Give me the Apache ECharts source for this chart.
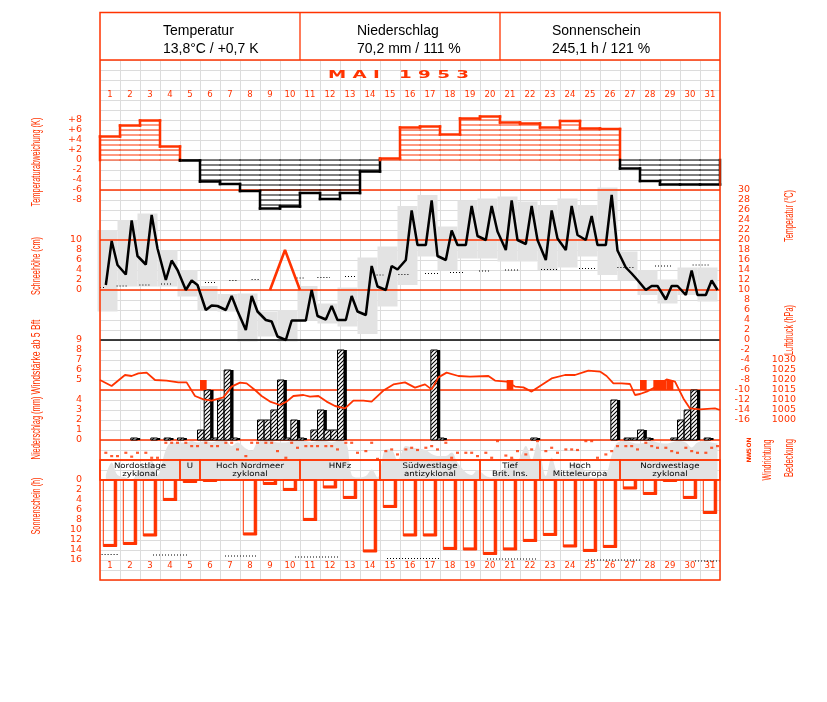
<!DOCTYPE html>
<html><head><meta charset="utf-8">
<script src="https://cdn.jsdelivr.net/npm/echarts@6/dist/echarts.min.js"></script>
<style>html,body{margin:0;padding:0;background:#fff}#c{width:827px;height:702px}</style>
</head><body><div id="c"></div>
<script>
// ---------------- DATA ----------------
const days = ['1','2','3','4','5','6','7','8','9','10','11','12','13','14','15','16','17','18','19','20','21','22','23','24','25','26','27','28','29','30','31'];
const headerTitles = ['Temperatur','Niederschlag','Sonnenschein'];
const headerValues = ['13,8°C / +0,7 K','70,2 mm / 111 %','245,1 h / 121 %'];
const monthTitle = 'M A I   1 9 5 3';

// daily temperature deviation (K)
const tempDev = [4.7,6.9,7.9,2.7,-0.1,-4.3,-4.8,-6.2,-9.7,-9.3,-6.6,-7.8,-6.6,-2.3,0.3,6.5,6.7,5.1,8.3,8.7,7.5,7.3,6.5,7.8,6.3,6.2,-1.7,-4.2,-4.9,-4.9,-4.9];
// temperature readings 7h / 14h / 21h (°C)
const temp07 = [11,13.1,15.1,12,10,6,6,2,4,0,3.9,4.1,4,5,10,16,19,16,19,20,18,19.2,16,18,20,19,14.5,10,8.1,9,9];
const temp14 = [19.8,23.9,25,15.9,11.9,6.9,8.8,8.8,3.7,3.9,10,6.8,8.8,14.8,14.8,25.9,27.9,21.9,26.8,26.8,27.9,26.8,25.9,26.8,24.8,29,13.3,10.8,10.8,13.9,11.9];
const temp21 = [15,16.8,18.3,14,11,6.8,5.8,5.7,0.7,3.9,4.8,4,5.7,10.7,14.1,19,16.8,19,20.8,21.7,20,20,20.3,21,19,17.9,12,10.8,10.8,9,10];
// daily max / min (°C)
const tMax = [22,24,25.3,18,14,10.8,9.2,9.3,5.7,6,10.8,7.3,10.5,16.5,18.7,26.8,29,22.7,27.9,28.3,28.7,27.7,27,28.3,27,30.5,17.7,14,12.1,14.5,14.5];
const tMin = [5.7,10.7,10.7,10.7,8.7,6,5.7,-0.3,0.7,-0.3,4,3.3,2.7,1.2,6.7,11,16.7,14,16.3,16.3,15.7,15.7,14,14.5,16.7,13,12,9,7.3,9,7.7];
// normal temperature (dotted segments, start day, end day, °C)
const normStart = [0.5,1.33,2.47,3.55,5.75,6.97,8.08,10.33,11.37,12.75,14.33,15.42,16.75,18.0,19.45,20.75,22.55,24.45,26.37,28.25,30.13];
const normEnd   = [0.8,1.92,3.0,4.08,6.33,7.42,8.5,10.7,12.0,13.3,14.67,16.0,17.42,18.67,20.0,21.5,23.42,25.3,27.17,29.08,31.0];
const normT     = [10.5,10.8,11,11.2,11.5,11.9,12.1,12.4,12.5,12.7,13,13.1,13.3,13.5,13.8,14,14.1,14.3,14.5,14.8,15];
// snow depth (cm)
const snowX  = [9.0,9.75,10.5];
const snowCm = [0,8,0];
// air pressure (hPa) with time in days
const pressT = [0.5,1.08,1.75,2.08,2.42,2.83,3.25,3.83,4.42,4.83,5.25,5.67,6.08,6.67,7.08,7.5,7.83,8.25,8.58,9.0,9.5,9.83,10.17,10.67,11.0,11.42,11.83,12.25,12.75,13.17,13.67,14.08,14.67,15.17,15.75,16.25,16.75,17.08,17.42,17.83,18.42,19.0,19.92,20.25,20.83,21.25,21.67,22.08,22.58,23.08,23.75,24.25,24.92,25.5,25.83,26.17,26.58,27.0,27.25,27.5,27.83,28.33,28.83,29.25,29.67,30.0,30.5,31.25,31.5];
const pressV = [1020,1017,1022.5,1022,1023.3,1023.7,1020,1019.7,1018.8,1018.8,1012,1010.3,1009.7,1011.3,1016.7,1018.7,1018.3,1015,1012,1009.2,1007.5,1009.2,1012,1012.5,1011.7,1012,1009.2,1007,1005.8,1009.7,1009.7,1009.2,1014.7,1017.8,1018.8,1016.2,1017.8,1015.3,1021.3,1023.7,1022,1021.7,1022,1019.7,1019.2,1016.7,1016.3,1014.2,1017.5,1020.8,1022.5,1022.5,1024.7,1024.2,1022,1018.3,1018.3,1018,1012.5,1013,1014.2,1016.7,1020.3,1019.2,1010.8,1005.8,1005.3,1005.8,1005];
// wind >= 5 Bft (day, third of day, Bft)
const windDay  = [6,21,28,28,29,29];
const windSlot = [0,1,0,2,0,1];
const windBft  = [5,5,5,5,5,5];
// precipitation (day, third of day, mm)
const precipDay  = [2,3,4,5,6,6,6,7,7,7,9,9,9,10,10,10,11,11,12,12,12,13,17,18,22,26,27,27,28,28,29,30,30,30,31];
const precipSlot = [2,2,1,0,0,1,2,0,1,2,0,1,2,0,1,2,0,2,0,1,2,0,2,0,2,2,1,2,0,1,2,0,1,2,1];
const precipMm   = [0.2,0.2,0.2,0.2,1,5,0.2,4,7,0.2,2,2,3,6,0.2,2,0.2,1,3,1,1,9,9,0.2,0.2,4,0.2,0.2,1,0.2,0.2,2,3,5,0.2];
// wind direction (deg) 7h/14h/21h
const windDir = [
 230,290,290, 230,300,230, 230,320,320, 50,50,50, 50,110,110, 50,110,110, 50,50,170, 290,50,50,
 50,50,200, 320,50,140, 110,110,110, 110,110,170, 50,50,230, 200,50,340, 200,170,260, 170,140,180,
 140,110,170, 50,320,230, 230,230,290, 230,320,20, 280,320,200, 260,170,20, 200,140,230, 170,170,180,
 20,20,320, 260,200,110, 110,110,170, 50,110,140, 140,200,230, 140,200,230, 230,140,110];
const windDirLabels = ['N','O','S','W','N'];
// cloud cover (octas) 7h/14h/21h
const cloud = [
 1,3.5,1, 0.5,0,1.5, 3,3.8,1, 6,7.5,7.5, 7.5,7.8,7.5, 7.8,7.5,7.8, 7.8,6.8,7.5, 6.3,5.8,7.5,
 7.8,7.8,7.5, 7.5,7.8,7.8, 7.8,7.5,7.8, 7.8,7.5,7.8, 7.5,1,0.5, 0.8,2.1,0.5, 6.1,6,4, 6.8,6.5,6.3,
 6,5.2,4.8, 4.8,5.5,3.5, 1.5,1,2, 0.8,0.5,1.5, 2.5,4.5,4, 6.8,4,7.5, 0.8,4.5,1.5, 1,3,3.5,
 1.5,0.5,0.5, 1,5,7.5, 7.8,7.5,7.3, 7.5,7.8,7.5, 7.3,7.5,7.8, 7.5,6.5,7.5, 7.8,7.5,7.3];
// weather types
const wtLabel = ['Nordostlage\nzyklonal','U','Hoch Nordmeer\nzyklonal','HNFz','Südwestlage\nantizyklonal','Tief\nBrit. Ins.','Hoch\nMitteleuropa','Nordwestlage\nzyklonal'];
const wtStart = [1,5,6,11,15,20,23,27];
const wtEnd   = [4,5,10,14,19,22,26,31];
// sunshine (h)
const sunHours = [13.3,12.9,11.2,4.1,0.5,0.2,0,11,0.9,2.1,8.1,1.6,3.7,14.4,5.5,11.2,11.2,13.9,14,14.9,14,12.3,11.1,13.4,14.3,13.5,1.8,2.9,0.3,3.7,6.7];
const sunMaxStart = [0.58,3.15,6.75,10.25,14.85,19.85,24.9,30.25];
const sunMaxEnd   = [1.42,4.9,8.4,12.4,17.5,22.35,27.6,31.5];
const sunMaxH     = [14.9,15,15.2,15.4,15.7,15.8,16,16.2];
const readHours = [7,14,21];

// ---------------- STYLE / HELPERS ----------------
const RED = '#ff3300', GRAYF = '#e3e3e3', GRIDC = '#dcdcdc', FONT = 'DejaVu Sans';
function measure(text, font){ const c=document.createElement('canvas').getContext('2d'); c.font=font; return c.measureText(text).width; }
function vtitle(text, cx, cy, len){
  const font = '12px "Liberation Sans", Arial, sans-serif';
  return {type:'text', x:cx, y:cy, rotation:Math.PI/2, scaleX:len/measure(text,font), z:10,
    style:{text, font, fill:RED, align:'center', verticalAlign:'middle', textAlign:'center', textVerticalAlign:'middle'}};
}
const pat = document.createElement('canvas'); pat.width=4; pat.height=4;
(function(){const g=pat.getContext('2d'); g.fillStyle='#fff'; g.fillRect(0,0,4,4); g.strokeStyle='#000'; g.lineWidth=1.1;
 g.beginPath(); g.moveTo(0,4); g.lineTo(4,0); g.moveTo(-1,1); g.lineTo(1,-1); g.moveTo(3,5); g.lineTo(5,3); g.stroke();})();

function seriesPts(arr){ const out=[]; for(let d=0; d<31; d++) for(let j=0;j<3;j++) out.push([d+0.5+readHours[j]/24, arr[d*3+j]]); return out; }
const tempPts=[]; for(let d=0; d<31; d++){ tempPts.push([d+0.5+7/24,temp07[d]],[d+0.5+14/24,temp14[d]],[d+0.5+21/24,temp21[d]]); }

const lbl = {color:RED, fontFamily:FONT, fontSize:9.5};
function yAx(o){ return Object.assign({type:'value', axisLine:{show:false}, axisTick:{show:false}, splitLine:{show:false}}, o); }
function ln(x1,y1,x2,y2,stroke,w){ return {type:'line', shape:{x1,y1,x2,y2}, style:{stroke, lineWidth:w, lineCap:'square'}}; }

// ---------------- GRAPHIC (layout) ----------------
const graphic = [];
[[60,RED],[190,RED],[240,RED],[290,RED],[340,'#000'],[390,RED],[440,RED],[460,RED],[480,RED]].forEach(([y,c])=>{
  graphic.push({type:'line', z:3, shape:{x1:100,y1:y,x2:720,y2:y}, style:{stroke:c, lineWidth:1.3}});
});
graphic.push({type:'rect', z:10, shape:{x:100,y:12.5,width:620,height:567.5}, style:{stroke:RED, fill:null, lineWidth:1.5}});
graphic.push({type:'line', z:10, shape:{x1:300,y1:12.5,x2:300,y2:60}, style:{stroke:RED, lineWidth:1.3}});
graphic.push({type:'line', z:10, shape:{x1:500,y1:12.5,x2:500,y2:60}, style:{stroke:RED, lineWidth:1.3}});
const hx = [163,357,552];
headerTitles.forEach((t,i)=>{
  graphic.push({type:'text', z:10, x:hx[i], y:31, style:{text:t, font:'14px "Liberation Sans", Arial, sans-serif', fill:'#000', verticalAlign:'middle', textVerticalAlign:'middle'}});
  graphic.push({type:'text', z:10, x:hx[i], y:49.5, style:{text:headerValues[i], font:'14px "Liberation Sans", Arial, sans-serif', fill:'#000', verticalAlign:'middle', textVerticalAlign:'middle'}});
});
(function(){ const f='bold 11px "DejaVu Sans"'; graphic.push({type:'text', z:10, x:398.5, y:75, scaleX:141/measure(monthTitle,f),
  style:{text:monthTitle, font:f, fill:RED, align:'center', verticalAlign:'middle', textAlign:'center', textVerticalAlign:'middle'}}); })();
graphic.push(vtitle('Temperaturabweichung (K)',37,162,89));
graphic.push(vtitle('Schneehöhe (cm)',37,266,58));
graphic.push(vtitle('Windstärke ab 5 Bft',37,357,75));
graphic.push(vtitle('Niederschlag (mm)',37,428,63));
graphic.push(vtitle('Sonnenschein (h)',37,506,57));
graphic.push(vtitle('Temperatur (°C)',790,216,52));
graphic.push(vtitle('Luftdruck (hPa)',790,330,50));
graphic.push(vtitle('Windrichtung',768,460,41));
graphic.push(vtitle('Bedeckung',790,458,38));

// ---------------- CHART ----------------
const chart = echarts.init(document.getElementById('c'), null, {renderer:'canvas'});
const gridBase = {left:100, width:620, show:false, containLabel:false, outerBoundsMode:'none'};
const option = {
  animation:false, backgroundColor:'#fff',
  graphic,
  grid:[
    Object.assign({top:60, height:520}, gridBase),
    Object.assign({top:110, height:100}, gridBase),
    Object.assign({top:190, height:250}, gridBase),
    Object.assign({top:440, height:40}, gridBase),
    Object.assign({top:480, height:80}, gridBase)
  ],
  xAxis:[
    {gridIndex:0, type:'value', min:0, max:31, interval:1, axisLine:{show:false}, axisTick:{show:false}, axisLabel:{show:false}, splitLine:{show:true, lineStyle:{color:GRIDC, width:1}}},
    {gridIndex:1, type:'value', min:0.5, max:31.5, show:false},
    {gridIndex:1, type:'category', data:days, position:'top', axisLine:{show:false}, axisTick:{show:false}, splitLine:{show:false},
      axisLabel:{interval:0, margin:11, color:RED, fontFamily:FONT, fontSize:8.5}},
    {gridIndex:2, type:'value', min:0.5, max:31.5, show:false},
    {gridIndex:3, type:'value', min:0.5, max:31.5, show:false},
    {gridIndex:4, type:'value', min:0.5, max:31.5, show:false},
    {gridIndex:4, type:'category', data:days, position:'bottom', axisLine:{show:false}, axisTick:{show:false}, splitLine:{show:false},
      axisLabel:{interval:0, margin:1, color:RED, fontFamily:FONT, fontSize:8.5}}
  ],
  yAxis:[
    {gridIndex:0, type:'value', min:0, max:52, interval:1, axisLine:{show:false}, axisTick:{show:false}, axisLabel:{show:false}, splitLine:{show:true, lineStyle:{color:GRIDC, width:1}}},
    yAx({gridIndex:1, min:-10, max:10, interval:2, position:'left', axisLabel:Object.assign({margin:18, formatter:v=>Math.abs(v)>8?'':(v>0?'+'+v:String(v))}, lbl)}),
    yAx({gridIndex:2, min:-20, max:30, interval:2, position:'right', axisLabel:Object.assign({margin:30, align:'right', showMaxLabel:true, formatter:v=>v<-16?'':String(v)}, lbl)}),
    yAx({gridIndex:2, min:-30, max:20, interval:2, position:'left', axisLabel:Object.assign({margin:18, formatter:v=>(v>=0&&v<=10)?String(v):''}, lbl)}),
    yAx({gridIndex:2, min:990, max:1115, interval:5, position:'right', axisLabel:Object.assign({margin:76, align:'right', formatter:v=>(v>=1000&&v<=1030)?String(v):''}, lbl)}),
    yAx({gridIndex:2, min:-1, max:24, interval:1, position:'left', axisLabel:Object.assign({margin:18, formatter:v=>(v>=5&&v<=9)?String(v):''}, lbl)}),
    yAx({gridIndex:2, min:0, max:25, interval:1, position:'left', axisLabel:Object.assign({margin:18, formatter:v=>(v>=0&&v<=4)?String(v):''}, lbl)}),
    yAx({gridIndex:3, min:0, max:8, show:false}),
    yAx({gridIndex:3, min:0, max:720, interval:90, inverse:true, position:'right',
      axisLabel:{margin:26, rotate:90, color:RED, fontFamily:FONT, fontSize:6, fontWeight:'bold', formatter:v=>(v%90===0&&v<=360)?windDirLabels[v/90]:''}}),
    yAx({gridIndex:4, min:0, max:16, interval:2, inverse:true, position:'left', axisLabel:Object.assign({margin:18, showMaxLabel:true, showMinLabel:true}, lbl)})
  ],
  series:[
    {type:'custom', xAxisIndex:3, yAxisIndex:2, z:1, data:days.map((d,i)=>[i+1,tMin[i],tMax[i]]),
      renderItem:(p,api)=>{ const d=api.value(0); const a=api.coord([d-0.625,api.value(2)]), b=api.coord([d+0.375,api.value(1)]);
        return {type:'rect', shape:{x:a[0],y:a[1],width:b[0]-a[0],height:b[1]-a[1]}, style:{fill:GRAYF}}; }},
    {type:'line', xAxisIndex:4, yAxisIndex:7, z:1, smooth:0.35, symbol:'none', data:seriesPts(cloud),
      lineStyle:{width:0, color:GRAYF}, areaStyle:{color:GRAYF, opacity:1}},
    {type:'custom', xAxisIndex:3, yAxisIndex:2, z:4, data:normT.map((t,i)=>[normStart[i],normEnd[i],t]),
      renderItem:(p,api)=>{ const a=api.coord([api.value(0),api.value(2)]), b=api.coord([api.value(1),api.value(2)]);
        return {type:'line', shape:{x1:a[0],y1:a[1],x2:b[0],y2:b[1]}, style:{stroke:'#000', lineWidth:1, lineDash:[1,2]}}; }},
    {type:'custom', xAxisIndex:1, yAxisIndex:1, z:5, data:tempDev.map((v,i)=>[i+1,v]),
      renderItem:(p,api)=>{
        const i=p.dataIndex, d=api.value(0), v=api.value(1);
        const xL=api.coord([d-0.5,0])[0], xR=api.coord([d+0.5,0])[0], y0=api.coord([d,0])[1], yv=api.coord([d,v])[1];
        const pos=v>0, col=pos?RED:'#000', sg=pos?1:-1, ch=[];
        for(let k=1;k<=Math.floor(Math.abs(v));k++){ const yk=api.coord([d,sg*k])[1]; if(Math.abs(yk-yv)>1.2) ch.push(ln(xL,yk,xR,yk,col,1)); }
        ch.push(ln(xL,y0,xR,y0,col,1));
        ch.push(ln(xL,yv,xR,yv,col,2.5));
        if(i>0){ const pv=tempDev[i-1], yp=api.coord([d,pv])[1], ppos=pv>0;
          if(ppos===pos) ch.push(ln(xL,yp,xL,yv,col,2.5));
          else { ch.push(ln(xL,yp,xL,y0,ppos?RED:'#000',2.5)); ch.push(ln(xL,y0,xL,yv,col,2.5)); } }
        else ch.push(ln(xL,y0,xL,yv,col,2.5));
        if(i===tempDev.length-1) ch.push(ln(xR,yv,xR,y0,col,2.5));
        return {type:'group', children:ch}; }},
    {type:'custom', xAxisIndex:3, yAxisIndex:6, z:6, data:precipMm.map((m,i)=>[precipDay[i],precipSlot[i],m]),
      renderItem:(p,api)=>{ const t0=api.value(0)-0.5+api.value(1)/3-0.125, t1=t0+1/3;
        const a=api.coord([t0,api.value(2)]), b=api.coord([t1,0]);
        return {type:'group', children:[
          {type:'rect', shape:{x:a[0],y:a[1],width:b[0]-a[0],height:b[1]-a[1]}, style:{fill:{image:pat, repeat:'repeat'}, stroke:'#000', lineWidth:1}},
          {type:'rect', shape:{x:b[0]-0.5,y:a[1],width:3.2,height:b[1]-a[1]}, style:{fill:'#000'}}]}; }},
    {type:'custom', xAxisIndex:3, yAxisIndex:5, z:6, data:windBft.map((v,i)=>[windDay[i],windSlot[i],v]),
      renderItem:(p,api)=>{ const t0=api.value(0)-0.5+api.value(1)/3; const a=api.coord([t0,api.value(2)]), b=api.coord([t0+1/3,4]);
        return {type:'rect', shape:{x:a[0],y:a[1],width:b[0]-a[0],height:b[1]-a[1]}, style:{fill:RED}}; }},
    {type:'line', xAxisIndex:3, yAxisIndex:2, z:7, symbol:'none', data:tempPts, lineStyle:{color:'#000', width:2.5}},
    {type:'line', xAxisIndex:3, yAxisIndex:4, z:7, symbol:'none', data:pressV.map((v,i)=>[pressT[i],v]), lineStyle:{color:RED, width:1.8}},
    {type:'line', xAxisIndex:3, yAxisIndex:3, z:7, symbol:'none', data:snowCm.map((v,i)=>[snowX[i],v]), lineStyle:{color:RED, width:2.6}},
    {type:'scatter', xAxisIndex:4, yAxisIndex:8, z:7, symbol:'rect', symbolSize:[3,2.2], itemStyle:{color:RED}, data:seriesPts(windDir)},
    {type:'custom', xAxisIndex:4, yAxisIndex:7, z:8, data:wtLabel.map((t,i)=>[wtStart[i],wtEnd[i]]),
      renderItem:(p,api)=>{ const a=api.coord([api.value(0)-0.5,4]), b=api.coord([api.value(1)+0.5,0]); const t=wtLabel[p.dataIndex];
        return {type:'group', children:[
          {type:'rect', shape:{x:a[0],y:a[1],width:b[0]-a[0],height:b[1]-a[1]}, style:{fill:null, stroke:RED, lineWidth:1.4}},
          {type:'text', x:(a[0]+b[0])/2, y:t.indexOf('\n')>=0?470.3:466.5, scaleX:1.15,
            style:{text:t, fill:'#000', font:'7.5px "DejaVu Sans"', lineHeight:7.8, align:'center', verticalAlign:'middle', textAlign:'center', textVerticalAlign:'middle'}}]}; }},
    {type:'custom', xAxisIndex:5, yAxisIndex:9, z:6, data:sunHours.map((h,i)=>[i+1,h]),
      renderItem:(p,api)=>{ const d=api.value(0), h=api.value(1); if(!(h>0)) return null;
        const xl=api.coord([d-0.5,0])[0]+3.3, xr=api.coord([d+0.5,0])[0]-3.3, y0=api.coord([d,0])[1], yb=api.coord([d,h])[1];
        const hh=Math.max(yb-y0,1.5);
        return {type:'group', children:[
          {type:'rect', shape:{x:xl,y:y0,width:xr-xl,height:hh}, style:{fill:null, stroke:RED, lineWidth:1}},
          {type:'rect', shape:{x:xr-3,y:y0,width:3,height:hh}, style:{fill:RED}},
          {type:'rect', shape:{x:xl,y:y0+hh-Math.min(2.6,hh),width:xr-xl,height:Math.min(2.6,hh)}, style:{fill:RED}}]}; }},
    {type:'custom', xAxisIndex:5, yAxisIndex:9, z:7, data:sunMaxH.map((h,i)=>[sunMaxStart[i],sunMaxEnd[i],h]),
      renderItem:(p,api)=>{ const a=api.coord([api.value(0),api.value(2)]), b=api.coord([api.value(1),api.value(2)]);
        return {type:'line', shape:{x1:a[0],y1:a[1],x2:b[0],y2:b[1]}, style:{stroke:'#000', lineWidth:1, lineDash:[1,2]}}; }}
  ]
};
chart.setOption(option);
</script></body></html>
